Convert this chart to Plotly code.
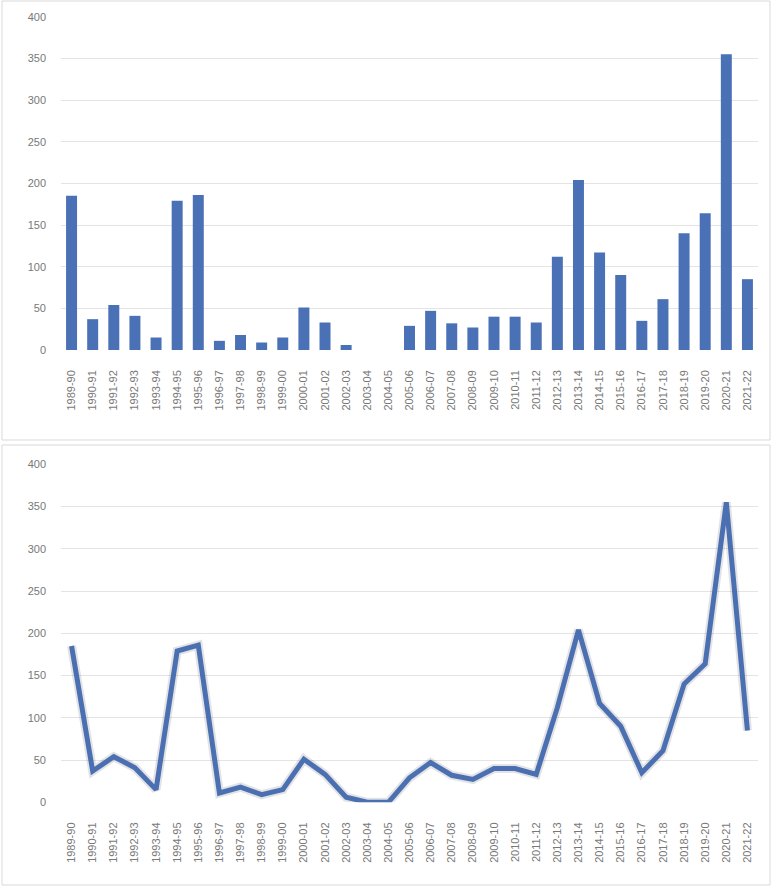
import plotly.graph_objects as go

categories = ["1989-90", "1990-91", "1991-92", "1992-93", "1993-94", "1994-95", "1995-96",
              "1996-97", "1997-98", "1998-99", "1999-00", "2000-01", "2001-02", "2002-03",
              "2003-04", "2004-05", "2005-06", "2006-07", "2007-08", "2008-09", "2009-10",
              "2010-11", "2011-12", "2012-13", "2013-14", "2014-15", "2015-16", "2016-17",
              "2017-18", "2018-19", "2019-20", "2020-21", "2021-22"]
values = [185, 37, 54, 41, 15, 179, 186, 11, 18, 9, 15, 51, 33, 6, 0, 0, 29, 47, 32, 27,
          40, 40, 33, 112, 204, 117, 90, 35, 61, 140, 164, 355, 85]
y_ticks = [0, 50, 100, 150, 200, 250, 300, 350, 400]

W, H = 772, 886
BAR_COLOR = "#4a70b6"
LINE_COLOR = "#4b70b2"
FONT = dict(family="Liberation Sans, Arial, sans-serif", size=11, color="#787878")


def py(p):
    return 1 - p / H


def px(p):
    return p / W


fig = go.Figure()

fig.add_trace(go.Bar(x=categories, y=values, marker=dict(color=BAR_COLOR, line=dict(width=0)),
                     xaxis="x", yaxis="y", showlegend=False))

# faint shadow under the line
fig.add_trace(go.Scatter(x=categories, y=values, mode="lines",
                         line=dict(color="rgba(60,60,80,0.14)", width=9),
                         xaxis="x2", yaxis="y2", showlegend=False, hoverinfo="skip"))
fig.add_trace(go.Scatter(x=categories, y=values, mode="lines",
                         line=dict(color=LINE_COLOR, width=5),
                         xaxis="x2", yaxis="y2", showlegend=False))

xdom = [px(61), px(758)]
axis_common_x = dict(type="category", tickangle=-90, tickfont=FONT, showgrid=False,
                     showline=False, ticks="", ticklabelstandoff=17, automargin=False,
                     range=[-0.5, len(categories) - 0.5], domain=xdom)
axis_common_y = dict(range=[0, 400], tickvals=y_ticks, tickfont=FONT, showgrid=True,
                     gridcolor="#e4e4e4", gridwidth=1, zeroline=False, showline=False,
                     ticks="", ticklabelstandoff=14, automargin=False)

fig.update_layout(
    width=W, height=H,
    margin=dict(l=0, r=0, t=0, b=0, pad=0),
    paper_bgcolor="white", plot_bgcolor="white",
    bargap=0.48,
    xaxis=dict(axis_common_x, anchor="y"),
    yaxis=dict(axis_common_y, domain=[py(350), py(16.7)], anchor="x"),
    xaxis2=dict(axis_common_x, anchor="y2"),
    yaxis2=dict(axis_common_y, domain=[py(802.3), py(464.3)], anchor="x2"),
    shapes=[
        dict(type="rect", xref="paper", yref="paper", x0=px(2), x1=px(770),
             y0=py(440), y1=py(1), line=dict(color="#d9d9d9", width=1), layer="below"),
        dict(type="rect", xref="paper", yref="paper", x0=px(2), x1=px(770),
             y0=py(885), y1=py(445), line=dict(color="#d9d9d9", width=1), layer="below"),
    ],
)

fig.write_html("out.html", config={"displayModeBar": False},
               post_script="document.body.style.margin='0';")
